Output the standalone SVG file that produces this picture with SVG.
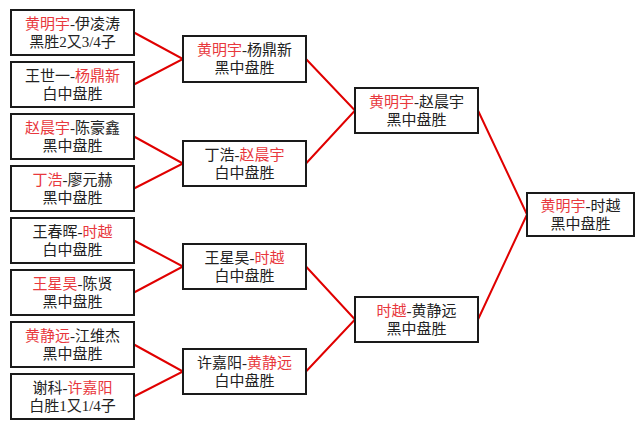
<svg xmlns="http://www.w3.org/2000/svg" width="644" height="429" viewBox="0 0 644 429">
<style>
.box{fill:#fff;stroke:#1a1a1a;stroke-width:2}
.t{font-family:"Liberation Serif","Noto Sans CJK SC",serif;font-size:15px;fill:#222;text-anchor:middle}
.r{fill:#e8383d}
.ln{stroke:#e00000;stroke-width:2;fill:none}
</style>
<rect width="644" height="429" fill="#fff"/>
<g id="connectors">
<polyline class="ln" points="134,32.5 183,59 134,84.5"/>
<polyline class="ln" points="134,136.5 183,163.5 134,188.5"/>
<polyline class="ln" points="134,240.5 183,266.5 134,292.5"/>
<polyline class="ln" points="134,344.5 183,371.5 134,396.5"/>
<polyline class="ln" points="306,59 355,110.5 306,163.5"/>
<polyline class="ln" points="306,266.5 355,319.5 306,371.5"/>
<polyline class="ln" points="478,110.5 527,214.5 478,319.5"/>
</g>
<g id="n1"><rect class="box" x="11" y="10" width="123" height="45"/><text class="t" x="72.5" y="29"><tspan class="r">黄明宇</tspan>-伊凌涛</text><text class="t" x="72.5" y="47">黑胜2又3/4子</text></g>
<g id="n2"><rect class="box" x="11" y="62" width="123" height="45"/><text class="t" x="72.5" y="81">王世一-<tspan class="r">杨鼎新</tspan></text><text class="t" x="72.5" y="99">白中盘胜</text></g>
<g id="n3"><rect class="box" x="11" y="114" width="123" height="45"/><text class="t" x="72.5" y="133"><tspan class="r">赵晨宇</tspan>-陈豪鑫</text><text class="t" x="72.5" y="151">黑中盘胜</text></g>
<g id="n4"><rect class="box" x="11" y="166" width="123" height="45"/><text class="t" x="72.5" y="185"><tspan class="r">丁浩</tspan>-廖元赫</text><text class="t" x="72.5" y="203">黑中盘胜</text></g>
<g id="n5"><rect class="box" x="11" y="218" width="123" height="45"/><text class="t" x="72.5" y="237">王春晖-<tspan class="r">时越</tspan></text><text class="t" x="72.5" y="255">白中盘胜</text></g>
<g id="n6"><rect class="box" x="11" y="270" width="123" height="45"/><text class="t" x="72.5" y="289"><tspan class="r">王星昊</tspan>-陈贤</text><text class="t" x="72.5" y="307">黑中盘胜</text></g>
<g id="n7"><rect class="box" x="11" y="322" width="123" height="45"/><text class="t" x="72.5" y="341"><tspan class="r">黄静远</tspan>-江维杰</text><text class="t" x="72.5" y="359">黑中盘胜</text></g>
<g id="n8"><rect class="box" x="11" y="374" width="123" height="45"/><text class="t" x="72.5" y="393">谢科-<tspan class="r">许嘉阳</tspan></text><text class="t" x="72.5" y="411">白胜1又1/4子</text></g>
<g id="m1"><rect class="box" x="183" y="36" width="123" height="46"/><text class="t" x="244.5" y="55"><tspan class="r">黄明宇</tspan>-杨鼎新</text><text class="t" x="244.5" y="73">黑中盘胜</text></g>
<g id="m2"><rect class="box" x="183" y="141" width="123" height="45"/><text class="t" x="244.5" y="160">丁浩-<tspan class="r">赵晨宇</tspan></text><text class="t" x="244.5" y="178">白中盘胜</text></g>
<g id="m3"><rect class="box" x="183" y="244" width="123" height="45"/><text class="t" x="244.5" y="263">王星昊-<tspan class="r">时越</tspan></text><text class="t" x="244.5" y="281">白中盘胜</text></g>
<g id="m4"><rect class="box" x="183" y="349" width="123" height="45"/><text class="t" x="244.5" y="368">许嘉阳-<tspan class="r">黄静远</tspan></text><text class="t" x="244.5" y="386">白中盘胜</text></g>
<g id="s1"><rect class="box" x="355" y="88" width="123" height="45"/><text class="t" x="416.5" y="107"><tspan class="r">黄明宇</tspan>-赵晨宇</text><text class="t" x="416.5" y="125">黑中盘胜</text></g>
<g id="s2"><rect class="box" x="355" y="297" width="123" height="45"/><text class="t" x="416.5" y="316"><tspan class="r">时越</tspan>-黄静远</text><text class="t" x="416.5" y="334">黑中盘胜</text></g>
<g id="f"><rect class="box" x="527" y="193" width="107" height="43"/><text class="t" x="580.5" y="211"><tspan class="r">黄明宇</tspan>-时越</text><text class="t" x="580.5" y="229">黑中盘胜</text></g>
</svg>
